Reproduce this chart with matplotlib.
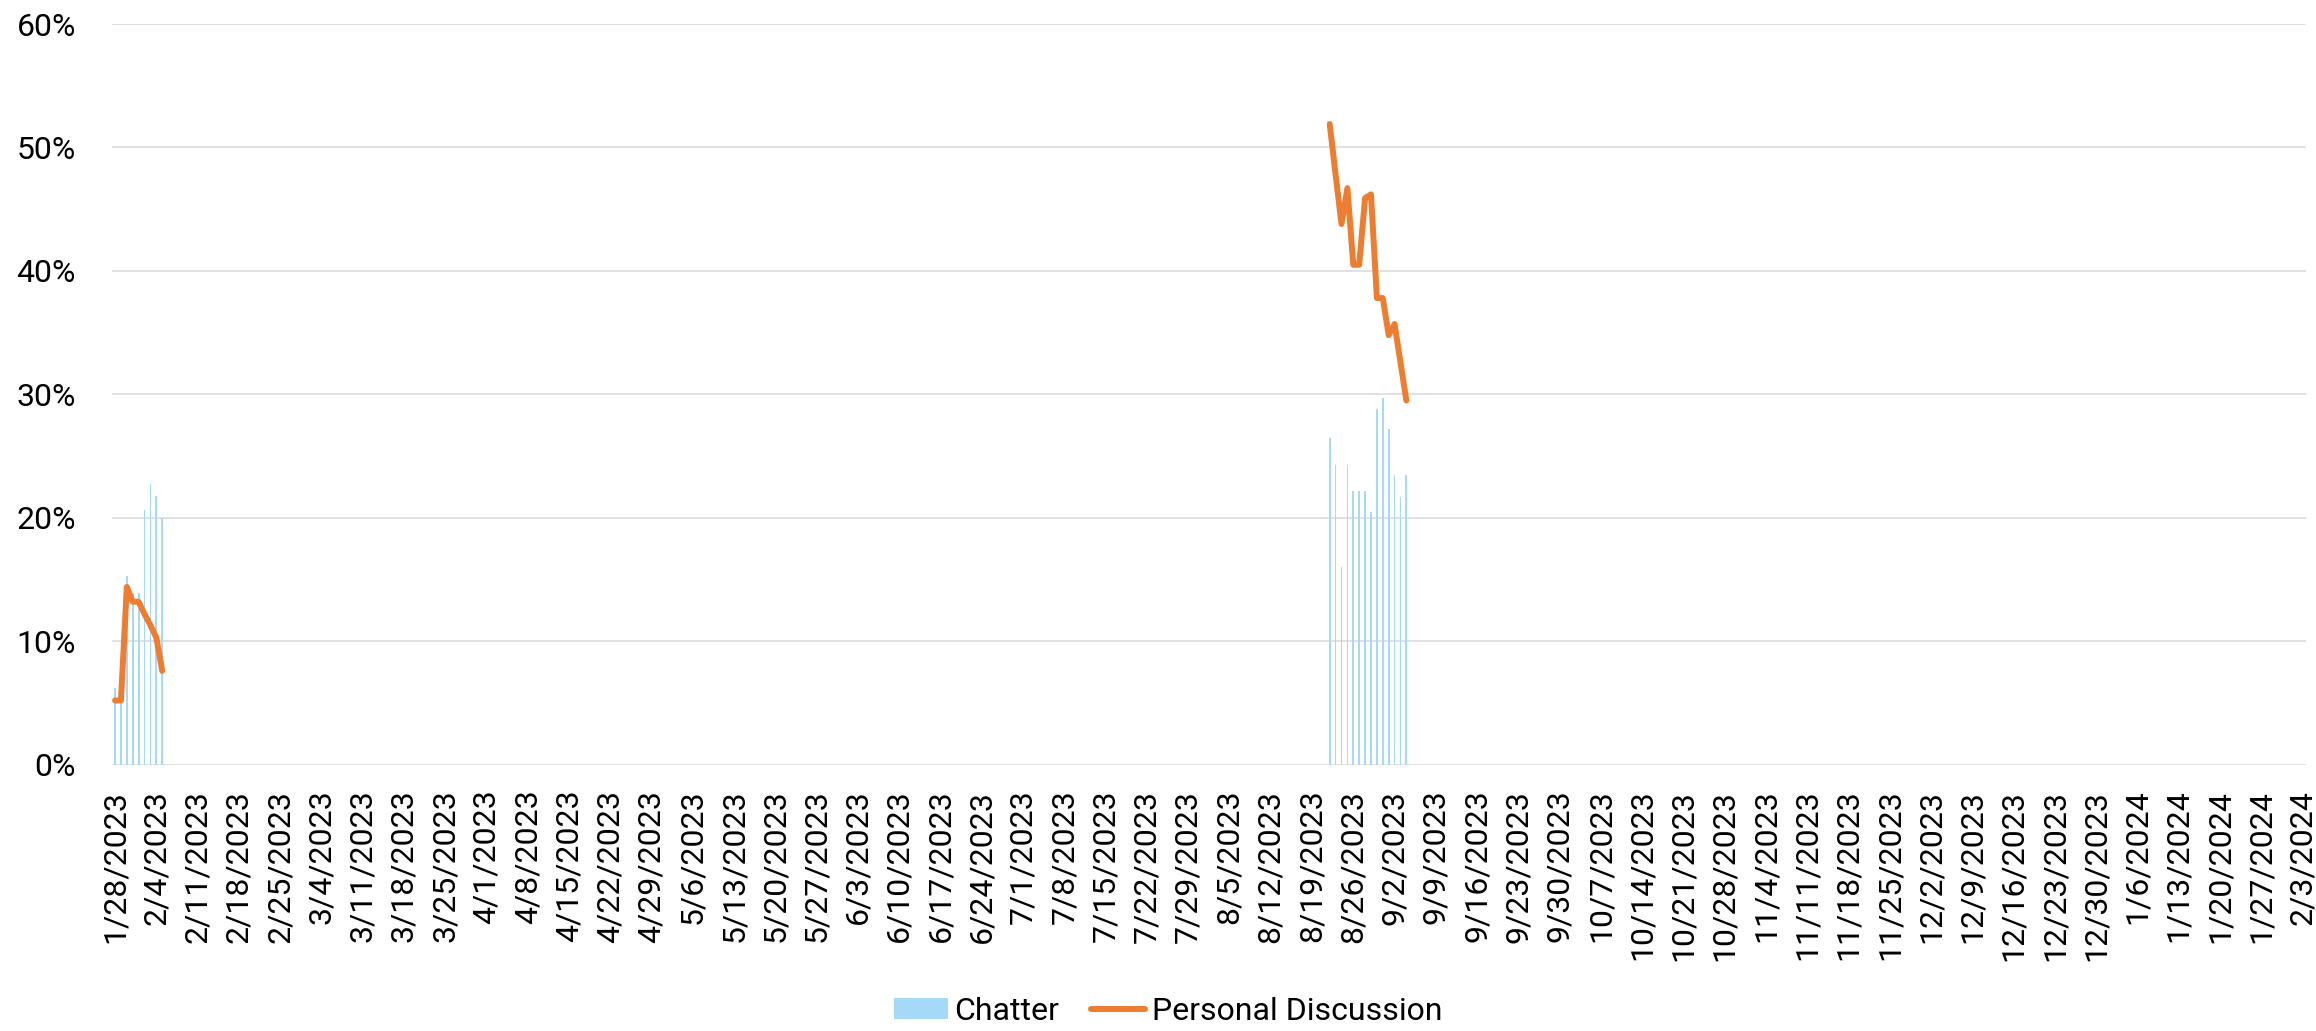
import datetime as dt
import numpy as np
import matplotlib
matplotlib.use("Agg")
import matplotlib.pyplot as plt
import matplotlib.dates as mdates

plt.rcParams['font.family'] = ['Roboto', 'DejaVu Sans']

# daily values (percent), two short runs of data
chatter_dates_a = [dt.date(2023, 1, 28) + dt.timedelta(days=i) for i in range(9)]
chatter_a = [6.2, 5.0, 15.3, 13.9, 13.9, 20.6, 22.7, 21.8, 20.0]
personal_a = [5.2, 5.2, 14.4, 13.2, 13.2, 12.2, 11.3, 10.3, 7.6]

chatter_dates_b = [dt.date(2023, 8, 22) + dt.timedelta(days=i) for i in range(14)]
chatter_b = [26.5, 24.3, 16.0, 24.3, 22.2, 22.2, 22.2, 20.5, 28.8, 29.7, 27.2, 23.5, 21.7, 23.5]
personal_b = [51.9, 47.8, 43.8, 46.7, 40.5, 40.5, 45.9, 46.2, 37.8, 37.8, 34.8, 35.7, 32.6, 29.5]

start = dt.date(2023, 1, 28)
end = dt.date(2024, 2, 3)
tick_dates = [start + dt.timedelta(days=7 * i) for i in range(((end - start).days // 7) + 1)]
tick_labels = [f"{d.month}/{d.day}/{d.year}" for d in tick_dates]
y_ticks = [0, 10, 20, 30, 40, 50, 60]

fig = plt.figure(figsize=(23.16, 10.31), dpi=100)
ax = fig.add_axes([0.0484, 0.2583, 0.9471, 0.7184])

bar_color = '#a6d9f7'
line_color = '#ed7d31'

xa = mdates.date2num(chatter_dates_a)
xb = mdates.date2num(chatter_dates_b)
bars = ax.bar(np.concatenate([xa, xb]), chatter_a + chatter_b, width=0.3,
              color=bar_color, label='Chatter', zorder=2)

# join both runs into one line with a gap
line_x = np.concatenate([xa, [np.nan], xb])
line_y = personal_a + [np.nan] + personal_b
line, = ax.plot(line_x, line_y, color=line_color, lw=4.3, solid_capstyle='round',
                solid_joinstyle='round', label='Personal Discussion', zorder=3)

ax.set_xlim(mdates.date2num(start) - 0.5, mdates.date2num(end) + 0.5)
ax.set_ylim(0, 60)
ax.set_xticks(mdates.date2num(tick_dates))
ax.set_xticklabels(tick_labels, rotation=90, fontsize=23)
ax.set_yticks(y_ticks)
ax.set_yticklabels([f"{v}%" for v in y_ticks], fontsize=23)
ax.tick_params(axis='x', length=0, pad=18)
ax.tick_params(axis='y', length=0, pad=26)

ax.grid(axis='y', color='#d9d9d9', lw=1.1, zorder=0)
ax.set_axisbelow(True)
for s in ax.spines.values():
    s.set_visible(False)

fig.legend([bars, line], ['Chatter', 'Personal Discussion'],
           loc='center', bbox_to_anchor=(0.5043, 0.019), ncol=2, frameon=False,
           fontsize=23, handlelength=1.7, handleheight=0.65, handletextpad=0.2,
           columnspacing=1.0, borderpad=0)

fig.savefig('out.png', dpi=100)
